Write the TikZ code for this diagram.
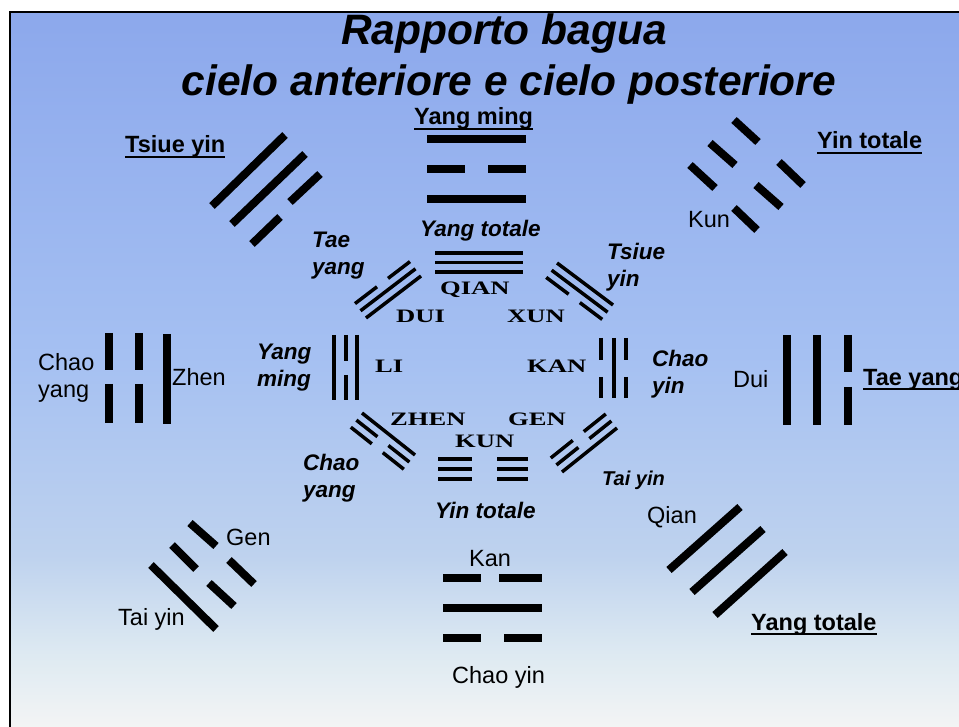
\documentclass[tikz,border=0pt]{standalone}
\usepackage{fontspec}
\setmainfont{Liberation Sans}
\newfontfamily\romfont[FakeStretch=1.4]{Liberation Serif}

\newlength\ulwidth
\newcommand\ulined[1]{\settowidth\ulwidth{#1}\rlap{\rule[-5pt]{\ulwidth}{2pt}}#1}

\definecolor{skyA}{RGB}{140,168,236}
\definecolor{skyB}{RGB}{165,192,242}
\definecolor{skyC}{RGB}{190,210,238}
\definecolor{skyD}{RGB}{222,234,242}
\definecolor{skyE}{RGB}{243,244,244}
\pgfdeclareverticalshading{sky}{100bp}{color(0bp)=(skyE); color(25bp)=(skyE);
  color(30bp)=(skyD); color(37bp)=(skyC); color(51bp)=(skyB);
  color(75bp)=(skyA); color(100bp)=(skyA)}

\tikzset{
  yao/.style={line width=8pt},
  yaothin/.style={line width=3.5pt},
  lab/.style={anchor=base west, inner sep=0pt, align=left,
    font=\fontsize{23.5}{28}\selectfont},
  labul/.style={lab, font=\fontsize{23.5}{28}\selectfont\bfseries},
  labbi/.style={anchor=base west, inner sep=0pt, align=left,
    font=\fontsize{22.5}{27}\selectfont\bfseries\itshape},
  hanzi/.style={anchor=base west, inner sep=0pt,
    font=\fontsize{19}{22}\selectfont\romfont\bfseries},
  titolo/.style={anchor=base, inner sep=0pt,
    font=\fontsize{42.5}{48}\selectfont\bfseries\itshape}
}

\begin{document}
\begin{tikzpicture}[x=1pt, y=-1pt]
  \useasboundingbox (0,0) rectangle (959,727);
  \clip (0,0) rectangle (959,727);
  \fill[white] (0,0) rectangle (959,727);
  \shade[shading=sky] (10,12) rectangle (959,727);
  \draw[line width=2pt] (10,727) -- (10,12) -- (959,12);

  % titolo
  \node[titolo] (t1) at (504,45) {Rapporto bagua};
  \node[titolo] (t2) at (509,96) {cielo anteriore e cielo posteriore};

  % cielo posteriore
  \node[labul] (liname) at (414,125) {\ulined{Yang ming}};
  \draw[yao] (427,139) -- (526,139);
  \draw[yao] (427,169.5) -- (465,169.5);
  \draw[yao] (488,169.5) -- (526,169.5);
  \draw[yao] (427,199.5) -- (526,199.5);

  \node[labul] (xunname) at (125,153) {\ulined{Tsiue yin}};
  \draw[yao] (212,206) -- (285,135);
  \draw[yao] (232,224) -- (305,154);
  \draw[yao] (252,244) -- (280,217);
  \draw[yao] (290,202) -- (320,174);

  \node[labul] (kunname) at (817,149) {\ulined{Yin totale}};
  \node[lab] (kun) at (688,228) {Kun};
  \draw[yao] (734,120) -- (758,142);
  \draw[yao] (779,162) -- (803,185);
  \draw[yao] (710,143) -- (735,165);
  \draw[yao] (756,185) -- (781,207);
  \draw[yao] (690,165) -- (715,188);
  \draw[yao] (734,208) -- (757,230);

  \node[lab] (zhenname) at (38,398) {Chao\\yang};
  \node[lab] (zhen) at (172,385) {Zhen};
  \draw[yao] (108.5,333) -- (108.5,370);
  \draw[yao] (108.5,384) -- (108.5,423);
  \draw[yao] (138.5,333) -- (138.5,370);
  \draw[yao] (138.5,384) -- (138.5,423);
  \draw[yao] (167,334) -- (167,424);

  \node[lab] (dui) at (733,388) {Dui};
  \node[labul] (duiname) at (863,385) {\ulined{Tae yang}};
  \draw[yao] (787,335) -- (787,425);
  \draw[yao] (817,335) -- (817,425);
  \draw[yao] (848,335) -- (848,372);
  \draw[yao] (848,387) -- (848,425);

  \node[lab] (gen) at (226,545) {Gen};
  \node[lab] (genname) at (118,625) {Tai yin};
  \draw[yao] (151,565) -- (216,629);
  \draw[yao] (172,545) -- (196,569);
  \draw[yao] (209,583) -- (234,606);
  \draw[yao] (190,523) -- (216,546);
  \draw[yao] (229,560) -- (254,584);

  \node[lab] (kan) at (469,566) {Kan};
  \node[lab] (kanname) at (452,683) {Chao yin};
  \draw[yao] (443,577.5) -- (481,577.5);
  \draw[yao] (499,577.5) -- (542,577.5);
  \draw[yao] (443,607.5) -- (542,607.5);
  \draw[yao] (443,638) -- (481,638);
  \draw[yao] (504,638) -- (542,638);

  \node[lab] (qian) at (647,523) {Qian};
  \node[labul] (qianname) at (751,630) {\ulined{Yang totale}};
  \draw[yao] (669,570) -- (740,507);
  \draw[yao] (692,592) -- (763,529);
  \draw[yao] (715,615) -- (785,552);

  % cielo anteriore
  \node[labbi] (qianpre) at (420,237) {Yang totale};
  \node[hanzi] (QIAN) at (440,295) {QIAN};
  \draw[yaothin] (435,253) -- (523,253);
  \draw[yaothin] (435,262.5) -- (523,262.5);
  \draw[yaothin] (435,272) -- (523,272);

  \node[labbi] (duipre) at (312,275) {Tae\\yang};
  \node[hanzi] (DUI) at (396,323) {DUI};
  \draw[yaothin] (366,318) -- (421,276);
  \draw[yaothin] (360.5,310.8) -- (415.5,268.8);
  \draw[yaothin] (355,303.6) -- (377,286.8);
  \draw[yaothin] (388,278.4) -- (410,261.6);

  \node[labbi] (xunpre) at (607,287) {Tsiue\\yin};
  \node[hanzi] (XUN) at (507,323) {XUN};
  \draw[yaothin] (557,263) -- (613,305);
  \draw[yaothin] (551.6,270.2) -- (607.6,312.2);
  \draw[yaothin] (546.2,277.4) -- (568.6,294.2);
  \draw[yaothin] (579.8,302.6) -- (602.2,319.4);

  \node[labbi] (lipre) at (257,387) {Yang\\ming};
  \node[hanzi] (LI) at (375,373) {LI};
  \draw[yaothin] (334,335) -- (334,400);
  \draw[yaothin] (346,335) -- (346,361);
  \draw[yaothin] (346,375) -- (346,400);
  \draw[yaothin] (357,335) -- (357,400);

  \node[labbi] (kanpre) at (652,393) {Chao\\yin};
  \node[hanzi] (KAN) at (527,373) {KAN};
  \draw[yaothin] (601,338) -- (601,360);
  \draw[yaothin] (601,377) -- (601,398);
  \draw[yaothin] (614,338) -- (614,398);
  \draw[yaothin] (626,338) -- (626,360);
  \draw[yaothin] (626,377) -- (626,398);

  \node[labbi] (zhenpre) at (303,497) {Chao\\yang};
  \node[hanzi] (ZHEN) at (390,425) {ZHEN};
  \draw[yaothin] (362,413) -- (415,455);
  \draw[yaothin] (356.4,420.1) -- (377.4,436.7);
  \draw[yaothin] (388.4,445.5) -- (409.4,462.1);
  \draw[yaothin] (350.8,427.2) -- (371.8,443.8);
  \draw[yaothin] (382.8,452.6) -- (403.8,469.2);

  \node[labbi] (kunpre) at (435,518) {Yin totale};
  \node[hanzi] (KUN) at (455,447) {KUN};
  \draw[yaothin] (438,459) -- (472,459);
  \draw[yaothin] (497,459) -- (528,459);
  \draw[yaothin] (438,469) -- (472,469);
  \draw[yaothin] (497,469) -- (528,469);
  \draw[yaothin] (438,479) -- (472,479);
  \draw[yaothin] (497,479) -- (528,479);

  \node[labbi, font=\fontsize{20}{24}\selectfont\bfseries\itshape] (genpre) at (602,485) {Tai yin};
  \node[hanzi] (GEN) at (508,425) {GEN};
  \draw[yaothin] (562,472) -- (617,428);
  \draw[yaothin] (556.4,465) -- (578.4,447.4);
  \draw[yaothin] (589.4,438.6) -- (611.4,421);
  \draw[yaothin] (550.8,458) -- (572.8,440.4);
  \draw[yaothin] (583.8,431.6) -- (605.8,414);
\end{tikzpicture}
\end{document}
